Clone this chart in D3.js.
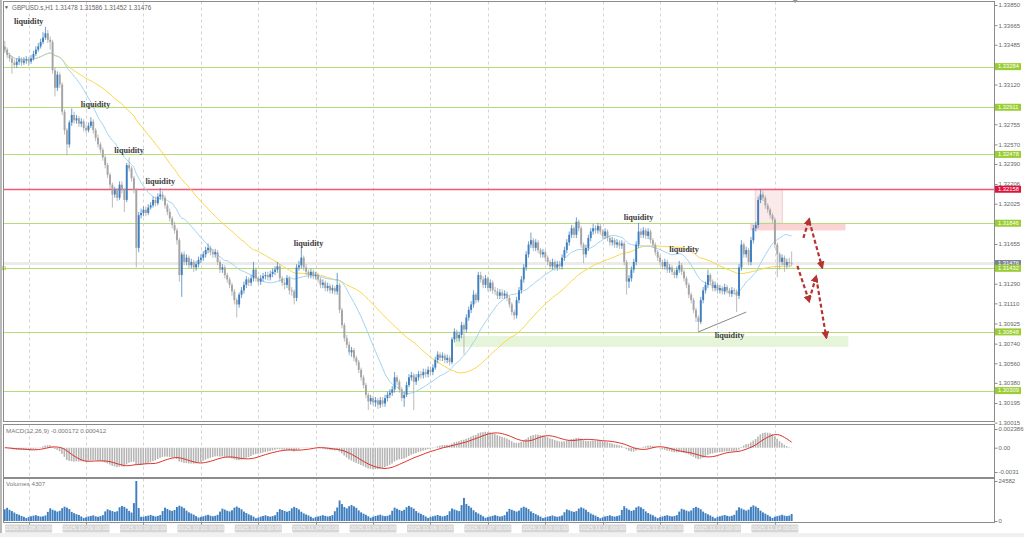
<!DOCTYPE html>
<html><head><meta charset="utf-8">
<script src="https://cdn.jsdelivr.net/npm/d3@7"></script>
<style>body{margin:0;background:#fff;}svg{display:block;font-family:"Liberation Sans",Arial,sans-serif;}</style>
</head><body><svg id="c" width="1024" height="537"></svg>
<script>
// ---------- DATA ----------
const symbolTitle = "GBPUSD.s,H1";
const firstOpen = 1.3347;
const closes = [
1.3344,1.3339,1.3336,1.3332,1.3330,1.3333,1.3335,1.3332,1.3334,1.3335,
1.3333,1.3336,1.3340,1.3344,1.3347,1.3351,1.3355,1.3359,1.3353,1.3351,
1.3325,1.3309,1.3321,1.3312,1.3287,1.3270,1.3257,1.3277,1.3284,1.3279,
1.3281,1.3276,1.3278,1.3272,1.3270,1.3274,1.3278,1.3270,1.3263,1.3257,
1.3252,1.3245,1.3238,1.3229,1.3220,1.3211,1.3215,1.3208,1.3220,1.3215,
1.3206,1.3238,1.3235,1.3226,1.3215,1.3162,1.3192,1.3194,1.3197,1.3194,
1.3199,1.3201,1.3206,1.3203,1.3209,1.3211,1.3208,1.3201,1.3195,1.3189,
1.3183,1.3178,1.3169,1.3137,1.3156,1.3149,1.3153,1.3146,1.3149,1.3144,
1.3147,1.3151,1.3153,1.3156,1.3160,1.3162,1.3158,1.3156,1.3158,1.3149,
1.3142,1.3144,1.3137,1.3133,1.3128,1.3122,1.3114,1.3110,1.3119,1.3123,
1.3128,1.3133,1.3130,1.3134,1.3142,1.3134,1.3131,1.3134,1.3136,1.3137,
1.3135,1.3138,1.3140,1.3142,1.3145,1.3134,1.3130,1.3128,1.3134,1.3123,
1.3122,1.3116,1.3144,1.3146,1.3153,1.3144,1.3140,1.3137,1.3140,1.3136,
1.3137,1.3133,1.3128,1.3130,1.3125,1.3127,1.3123,1.3125,1.3122,1.3128,
1.3105,1.3091,1.3079,1.3073,1.3066,1.3068,1.3061,1.3057,1.3050,1.3043,
1.3036,1.3027,1.3021,1.3024,1.3020,1.3022,1.3018,1.3022,1.3019,1.3024,
1.3027,1.3029,1.3032,1.3043,1.3039,1.3032,1.3024,1.3027,1.3036,1.3043,
1.3045,1.3039,1.3043,1.3046,1.3045,1.3048,1.3046,1.3050,1.3048,1.3052,
1.3059,1.3064,1.3061,1.3063,1.3059,1.3061,1.3057,1.3078,1.3085,1.3079,
1.3082,1.3091,1.3087,1.3098,1.3105,1.3110,1.3119,1.3114,1.3137,1.3133,
1.3128,1.3134,1.3125,1.3130,1.3123,1.3122,1.3118,1.3121,1.3118,1.3120,
1.3116,1.3110,1.3103,1.3100,1.3114,1.3123,1.3133,1.3144,1.3156,1.3165,
1.3169,1.3162,1.3167,1.3160,1.3156,1.3158,1.3153,1.3149,1.3145,1.3149,
1.3144,1.3147,1.3145,1.3153,1.3160,1.3167,1.3174,1.3180,1.3174,1.3186,
1.3180,1.3165,1.3156,1.3162,1.3171,1.3177,1.3180,1.3178,1.3182,1.3177,
1.3173,1.3177,1.3171,1.3167,1.3169,1.3165,1.3167,1.3164,1.3166,1.3149,
1.3131,1.3134,1.3142,1.3149,1.3165,1.3177,1.3174,1.3178,1.3173,1.3177,
1.3169,1.3165,1.3158,1.3153,1.3149,1.3145,1.3149,1.3142,1.3144,1.3140,
1.3137,1.3142,1.3146,1.3140,1.3134,1.3128,1.3119,1.3114,1.3105,1.3098,
1.3094,1.3114,1.3123,1.3128,1.3137,1.3131,1.3125,1.3128,1.3123,1.3125,
1.3122,1.3126,1.3123,1.3120,1.3123,1.3122,1.3118,1.3144,1.3165,1.3156,
1.3160,1.3149,1.3169,1.3180,1.3183,1.3206,1.3211,1.3208,1.3201,1.3197,
1.3192,1.3188,1.3165,1.3156,1.3149,1.3153,1.3146,1.3149,1.31478,1.31476
];
const highs = [
1.3352,1.3346,1.3341,1.3338,1.3335,1.3336,1.3338,1.3337,1.3337,1.3338,
1.3337,1.3339,1.3343,1.3347,1.3350,1.3354,1.3360,1.3365,1.3362,1.3356,
1.3353,1.3328,1.3324,1.3323,1.3314,1.3289,1.3272,1.3279,1.3290,1.3287,
1.3284,1.3283,1.3281,1.3280,1.3275,1.3277,1.3282,1.3280,1.3272,1.3266,
1.3259,1.3254,1.3247,1.3240,1.3231,1.3222,1.3218,1.3217,1.3223,1.3223,
1.3217,1.3240,1.3245,1.3237,1.3228,1.3217,1.3195,1.3198,1.3200,1.3200,
1.3202,1.3204,1.3209,1.3209,1.3212,1.3217,1.3214,1.3210,1.3203,1.3198,
1.3191,1.3186,1.3180,1.3171,1.3158,1.3159,1.3156,1.3155,1.3152,1.3151,
1.3150,1.3154,1.3156,1.3159,1.3163,1.3166,1.3164,1.3161,1.3161,1.3160,
1.3151,1.3147,1.3146,1.3139,1.3135,1.3130,1.3124,1.3116,1.3121,1.3126,
1.3131,1.3136,1.3135,1.3137,1.3149,1.3144,1.3136,1.3137,1.3139,1.3140,
1.3140,1.3141,1.3143,1.3145,1.3149,1.3147,1.3136,1.3133,1.3137,1.3136,
1.3126,1.3124,1.3147,1.3150,1.3162,1.3155,1.3147,1.3142,1.3143,1.3142,
1.3140,1.3139,1.3135,1.3133,1.3132,1.3130,1.3129,1.3128,1.3127,1.3139,
1.3130,1.3107,1.3093,1.3082,1.3076,1.3071,1.3070,1.3063,1.3059,1.3052,
1.3045,1.3038,1.3029,1.3027,1.3026,1.3025,1.3024,1.3025,1.3025,1.3027,
1.3030,1.3032,1.3035,1.3048,1.3045,1.3041,1.3034,1.3030,1.3039,1.3046,
1.3048,1.3047,1.3046,1.3049,1.3049,1.3051,1.3051,1.3053,1.3053,1.3055,
1.3062,1.3067,1.3066,1.3066,1.3065,1.3064,1.3063,1.3080,1.3088,1.3087,
1.3085,1.3094,1.3093,1.3101,1.3108,1.3113,1.3123,1.3121,1.3140,1.3140,
1.3136,1.3137,1.3136,1.3133,1.3132,1.3126,1.3125,1.3124,1.3124,1.3123,
1.3122,1.3118,1.3112,1.3105,1.3117,1.3126,1.3136,1.3147,1.3159,1.3168,
1.3176,1.3171,1.3170,1.3169,1.3162,1.3161,1.3160,1.3155,1.3151,1.3152,
1.3151,1.3150,1.3150,1.3156,1.3163,1.3170,1.3177,1.3183,1.3182,1.3190,
1.3188,1.3182,1.3167,1.3165,1.3174,1.3180,1.3184,1.3183,1.3185,1.3184,
1.3179,1.3180,1.3179,1.3173,1.3172,1.3171,1.3170,1.3169,1.3169,1.3168,
1.3151,1.3137,1.3145,1.3152,1.3168,1.3185,1.3180,1.3181,1.3180,1.3180,
1.3179,1.3171,1.3167,1.3160,1.3155,1.3151,1.3152,1.3151,1.3147,1.3146,
1.3142,1.3145,1.3150,1.3148,1.3142,1.3136,1.3130,1.3121,1.3116,1.3107,
1.3100,1.3117,1.3126,1.3131,1.3142,1.3139,1.3133,1.3131,1.3130,1.3128,
1.3127,1.3129,1.3128,1.3125,1.3126,1.3125,1.3124,1.3147,1.3169,1.3167,
1.3163,1.3162,1.3172,1.3183,1.3186,1.3209,1.3216,1.3214,1.3210,1.3203,
1.3199,1.3194,1.3190,1.3167,1.3158,1.3156,1.3155,1.3152,1.3153,1.31586
];
const lows = [
1.3341,1.3336,1.3333,1.3322,1.3327,1.3327,1.3330,1.3329,1.3330,1.3331,
1.3329,1.3331,1.3334,1.3338,1.3342,1.3345,1.3349,1.3353,1.3350,1.3344,
1.3322,1.3301,1.3306,1.3309,1.3284,1.3266,1.3247,1.3254,1.3274,1.3276,
1.3276,1.3273,1.3273,1.3269,1.3267,1.3268,1.3272,1.3267,1.3260,1.3254,
1.3249,1.3242,1.3235,1.3226,1.3216,1.3199,1.3208,1.3205,1.3206,1.3212,
1.3195,1.3204,1.3232,1.3223,1.3212,1.3144,1.3158,1.3189,1.3191,1.3191,
1.3192,1.3197,1.3199,1.3200,1.3201,1.3206,1.3205,1.3198,1.3192,1.3186,
1.3180,1.3175,1.3165,1.3131,1.3117,1.3146,1.3146,1.3143,1.3143,1.3140,
1.3141,1.3144,1.3148,1.3150,1.3153,1.3157,1.3155,1.3153,1.3153,1.3146,
1.3139,1.3139,1.3134,1.3130,1.3125,1.3118,1.3110,1.3098,1.3107,1.3116,
1.3120,1.3125,1.3127,1.3127,1.3131,1.3131,1.3128,1.3128,1.3131,1.3133,
1.3132,1.3132,1.3135,1.3137,1.3139,1.3131,1.3127,1.3124,1.3125,1.3119,
1.3118,1.3110,1.3113,1.3141,1.3143,1.3141,1.3137,1.3134,1.3134,1.3133,
1.3133,1.3130,1.3125,1.3125,1.3122,1.3122,1.3120,1.3120,1.3119,1.3119,
1.3102,1.3088,1.3076,1.3070,1.3063,1.3062,1.3058,1.3054,1.3047,1.3040,
1.3033,1.3024,1.3013,1.3018,1.3017,1.3016,1.3014,1.3015,1.3016,1.3016,
1.3021,1.3024,1.3026,1.3029,1.3036,1.3029,1.3021,1.3016,1.3025,1.3034,
1.3040,1.3013,1.3036,1.3040,1.3042,1.3042,1.3043,1.3043,1.3045,1.3045,
1.3050,1.3056,1.3058,1.3058,1.3056,1.3056,1.3054,1.3055,1.3075,1.3076,
1.3076,1.3079,1.3064,1.3084,1.3095,1.3102,1.3107,1.3111,1.3112,1.3130,
1.3125,1.3125,1.3122,1.3122,1.3120,1.3119,1.3115,1.3115,1.3115,1.3115,
1.3113,1.3107,1.3100,1.3096,1.3097,1.3111,1.3120,1.3130,1.3141,1.3153,
1.3162,1.3159,1.3159,1.3157,1.3153,1.3153,1.3150,1.3146,1.3142,1.3142,
1.3141,1.3141,1.3142,1.3142,1.3150,1.3157,1.3164,1.3171,1.3171,1.3171,
1.3177,1.3162,1.3148,1.3153,1.3159,1.3168,1.3174,1.3175,1.3175,1.3174,
1.3170,1.3170,1.3168,1.3164,1.3164,1.3162,1.3162,1.3161,1.3161,1.3146,
1.3119,1.3125,1.3131,1.3139,1.3146,1.3162,1.3171,1.3171,1.3170,1.3170,
1.3166,1.3162,1.3155,1.3150,1.3146,1.3142,1.3142,1.3139,1.3139,1.3137,
1.3134,1.3134,1.3139,1.3137,1.3131,1.3125,1.3116,1.3111,1.3102,1.3094,
1.3085,1.3092,1.3111,1.3120,1.3125,1.3128,1.3122,1.3122,1.3120,1.3120,
1.3119,1.3119,1.3120,1.3117,1.3117,1.3119,1.3103,1.3115,1.3141,1.3153,
1.3153,1.3146,1.3146,1.3166,1.3177,1.3180,1.3203,1.3205,1.3198,1.3194,
1.3189,1.3185,1.3162,1.3135,1.3142,1.3146,1.3140,1.3143,1.3144,1.31452
];
const volumes = [
7200,8100,6900,6100,5200,4300,3800,3100,2600,1800,
2400,2900,3300,3600,3100,2700,2900,3400,5600,7800,6900,6400,5800,6300,7900,8800,8200,7300,5600,4800,4200,3700,2800,1900,
2300,2800,3100,3500,2900,2600,3000,3600,5900,7200,6600,6100,5600,6000,8400,9200,8700,7600,6200,5200,11000,24582,8000,2600,
2600,3000,3300,3700,3200,2800,3100,3700,6100,8200,7400,6600,6200,6800,8600,9400,8800,7900,6400,5300,4600,3900,3000,2100,
2500,2900,3400,3800,3300,2900,3200,3800,5800,7600,7000,6300,5900,6600,8200,8900,8100,7200,5800,4900,4100,3500,2700,1700,
2100,2700,3100,3500,3000,2700,3000,3500,5500,7300,6800,6200,5700,6200,7800,8700,8000,7100,5700,4700,4000,3400,2600,1800,
2400,2800,3200,3600,3100,2800,3000,3600,6000,8300,12600,10400,8600,7800,9100,9800,9000,8100,6500,5300,4500,3800,2900,2000,
2600,3100,3500,3900,3300,3000,3200,3800,6300,8200,7500,6800,6200,6900,8500,9300,8500,7600,6100,5100,4400,3700,2800,1900,
2500,2900,3300,3700,3200,2800,3100,3700,6000,7700,7100,6500,6100,9800,14200,10500,9300,8200,6600,5400,4600,3800,2900,2000,
2400,2800,3200,3600,3100,2700,3000,3600,5700,7400,6900,6300,5800,6400,8100,8800,8200,7300,5900,4900,4200,3500,2700,1800,
2200,2700,3000,3400,2900,2600,2900,3400,5400,7100,6600,6000,5600,6100,7600,8400,7800,6900,5600,4600,3900,3300,2500,1700,
2300,2800,3100,3500,3000,2700,3000,3500,6800,9100,7800,6900,6200,6700,8300,9000,8400,7400,5900,4900,4100,3500,2600,1800,
2400,2800,3200,3600,3100,2800,3100,3600,5800,7500,7000,6400,5900,6500,8000,8700,8100,7200,5800,4800,4100,3400,2600,1700,
2500,2900,3300,3700,3200,2900,3200,3800,6500,8400,7700,7000,6400,7000,8700,9600,8900,8000,6400,5300,4500,3700,2800,1900,
2600,3000,3400,3800,3300,3000,3300,4307
];
const dayLabels = ["2025.10.28 00:00","2025.10.29 00:00","2025.10.30 00:00","2025.10.31 00:00","2025.11.03 00:00","2025.11.04 00:00","2025.11.05 00:00","2025.11.06 00:00","2025.11.07 00:00","2025.11.10 00:00","2025.11.11 00:00","2025.11.12 00:00","2025.11.13 00:00","2025.11.14 00:00"];
const dayStartBars = [10,34,58,82,106,130,154,178,202,226,250,274,298,322];
const priceTicks = [1.33850,1.33665,1.33485,1.33120,1.32755,1.32570,1.32390,1.32206,1.32025,1.31655,1.31290,1.31110,1.30925,1.30740,1.30560,1.30380,1.30195,1.30015];
const supportLevels = [1.33284,1.32911,1.32478,1.31846,1.31432,1.30848,1.30309];
const resistanceLevel = 1.32158;
const bidPrice = 1.31476;
const macdLabel = "MACD(12,26,9) -0.000172 0.000412";
const macdTicks = [0.002386, 0.0, -0.0031];
const macdTickText = ["0.002386","0.00","-0.0031"];
const volumeTicks = [24582, 0];
// annotations in data coordinates [bar index, price]
const liquidityNotes = [[10,1.33694],[38,1.3293],[52,1.3251],[65,1.3222],[127,1.3165],[265,1.3189],[284,1.3160],[303,1.3081]];
const arrowsA = [[[333.9,1.31711],[336.4,1.31886]],[[336.4,1.31866],[341.8,1.31436]]];
const arrowsB = [[[331.4,1.31454],[336.4,1.31124]],[[336.4,1.31144],[339.3,1.31362]],[[339.3,1.31342],[343.5,1.30793]]];
const trendLine = [[290,1.30848],[310,1.3103]];
const sellZone = {i0:313.8, i1:325.1, p0:1.32158, p1:1.31846};
const sellBand = {i0:311.7, i1:351.5, p0:1.31846, p1:1.3178};
const targetBand = {i0:188.3, i1:352.7, p0:1.3081, p1:1.3071};

// ---------- CHART ----------
const svg = d3.select("#c");
const n = closes.length;
const opens = closes.map((c,i)=> i===0 ? firstOpen : closes[i-1]);
const L = 3.5, R = 994.5;
const x = d3.scaleBand().domain(d3.range(n)).range([3.8, 792.6]).paddingInner(0.2);
const cx = i => x(i) + x.bandwidth()/2;
const xi = d3.scaleLinear().domain([0, n-1]).range([cx(0), cx(n-1)]);
const y = d3.scaleLinear().domain([1.30015, 1.33850]).range([422.6, 5]);
const ym = d3.scaleLinear().domain([-0.0031, 0.002386]).range([472, 429]);
const yv = d3.scaleLinear().domain([0, 24582]).range([521, 481]);

const defs = svg.append("defs");
defs.append("clipPath").attr("id","cm").append("rect").attr("x",L).attr("y",1.5).attr("width",R-L).attr("height",420);
const mk = defs.append("marker").attr("id","ah").attr("viewBox","0 0 10 10").attr("refX",8).attr("refY",5)
  .attr("markerWidth",3.6).attr("markerHeight",3.6).attr("orient","auto");
mk.append("path").attr("d","M0,0 L10,5 L0,10 z").attr("fill","#b5342f");

// window frame
svg.append("rect").attr("x",0).attr("y",0).attr("width",2).attr("height",537).attr("fill","#b8b8b8");
svg.append("rect").attr("x",0).attr("y",533).attr("width",1024).attr("height",4).attr("fill","#f0f0f0");

// grid (vertical dashed)
const panels = [[1.5,421.5],[424.5,477.5],[478.5,522.5]];
panels.forEach(([t,b])=>{
  svg.append("g").selectAll("line").data(dayStartBars).join("line")
    .attr("x1",d=>Math.round(cx(d))+0.5).attr("x2",d=>Math.round(cx(d))+0.5).attr("y1",t).attr("y2",b)
    .attr("stroke","#d4d4d4").attr("stroke-dasharray","3,3");
});

const main = svg.append("g").attr("clip-path","url(#cm)");
// zones
main.append("rect").attr("x",xi(targetBand.i0)).attr("width",xi(targetBand.i1)-xi(targetBand.i0))
  .attr("y",y(targetBand.p0)).attr("height",y(targetBand.p1)-y(targetBand.p0)).attr("fill","#e6f5da");
main.append("rect").attr("x",xi(sellBand.i0)).attr("width",xi(sellBand.i1)-xi(sellBand.i0))
  .attr("y",y(sellBand.p0)).attr("height",y(sellBand.p1)-y(sellBand.p0)).attr("fill","#fbd3d3");
main.append("rect").attr("x",xi(sellZone.i0)).attr("width",xi(sellZone.i1)-xi(sellZone.i0))
  .attr("y",y(sellZone.p0)).attr("height",y(sellZone.p1)-y(sellZone.p0)).attr("fill","#fbeaea").attr("stroke","#efcfcf");

// bid line
main.append("rect").attr("x",L).attr("width",R-L).attr("y",y(bidPrice)-1.5).attr("height",3).attr("fill","#ebebeb");
// levels
main.selectAll("rect.lv").data(supportLevels).join("rect").attr("class","lv")
  .attr("x",L).attr("width",R-L).attr("y",d=>Math.round(y(d))).attr("height",1)
  .attr("fill","#b3dc7a");
main.append("rect").attr("class","res").attr("x",L).attr("width",R-L)
  .attr("y",Math.round(y(resistanceLevel))-0.25).attr("height",1.5)
  .attr("fill","#f25a76");

// moving averages
function sma(arr, p){ return arr.map((_,i)=>{ const s=Math.max(0,i-p+1); return d3.mean(arr.slice(s,i+1)); }); }
const ma20 = sma(closes,20), ma50 = sma(closes,50);
const lineGen = d3.line().x((d,i)=>cx(i)).y(d=>y(d)).curve(d3.curveMonotoneX);
main.append("path").attr("d",lineGen(ma50)).attr("fill","none").attr("stroke","#f9d648").attr("stroke-width",1);
main.append("path").attr("d",lineGen(ma20)).attr("fill","none").attr("stroke","#9fd3f2").attr("stroke-width",1);

// candles
const bw = x.bandwidth();
const cg = main.append("g");
cg.selectAll("line").data(closes).join("line")
  .attr("x1",(d,i)=>cx(i)).attr("x2",(d,i)=>cx(i))
  .attr("y1",(d,i)=>y(highs[i])).attr("y2",(d,i)=>y(lows[i]))
  .attr("stroke",(d,i)=>d>=opens[i]?"#4a86c0":"#a9a9a9").attr("stroke-width",0.8);
cg.selectAll("rect").data(closes).join("rect")
  .attr("x",(d,i)=>x(i)).attr("width",bw)
  .attr("y",(d,i)=>y(Math.max(d,opens[i]))).attr("height",(d,i)=>Math.max(0.8,Math.abs(y(d)-y(opens[i]))))
  .attr("fill",(d,i)=>d>=opens[i]?"#3f7fbf":"#a4a4a4");

// trend line
main.append("line").attr("x1",xi(trendLine[0][0])).attr("y1",y(trendLine[0][1])).attr("x2",xi(trendLine[1][0])).attr("y2",y(trendLine[1][1]))
  .attr("stroke","#8a8a8a").attr("stroke-width",1);

// arrows
[...arrowsA,...arrowsB].forEach(seg=>{
  main.append("line").attr("x1",xi(seg[0][0])).attr("y1",y(seg[0][1])).attr("x2",xi(seg[1][0])).attr("y2",y(seg[1][1]))
    .attr("stroke","#b5342f").attr("stroke-width",2.2).attr("stroke-dasharray","4,2.5").attr("marker-end","url(#ah)");
});

// liquidity labels
main.selectAll("text.liq").data(liquidityNotes).join("text").attr("class","liq")
  .attr("x",d=>xi(d[0])).attr("y",d=>y(d[1])).attr("text-anchor","middle").attr("dominant-baseline","middle")
  .attr("font-family","'Liberation Serif','Times New Roman',serif").attr("font-weight","bold").attr("font-size",8.2)
  .attr("fill","#3c3c3c").text("liquidity");

// left marker
svg.append("rect").attr("x",2.5).attr("y",y(1.31432)-1.5).attr("width",3).attr("height",3).attr("fill","none").attr("stroke","#9acd32").attr("stroke-width",0.7);

// panels frames
panels.forEach(([t,b])=>{
  svg.append("rect").attr("x",L).attr("y",t).attr("width",R-L).attr("height",b-t).attr("fill","none").attr("stroke","#8c8c8c");
});

// price axis
const ax = svg.append("g").attr("transform",`translate(${R},0)`)
  .call(d3.axisRight(y).tickValues(priceTicks).tickSize(3).tickFormat(d3.format(".5f")));
ax.select(".domain").remove();
ax.selectAll("line").attr("stroke","#8c8c8c");
ax.selectAll("text").attr("font-size",6).attr("fill","#666").attr("x",4).attr("font-family","'Liberation Sans',Arial,sans-serif");

// level tags
function tag(p, bg){
  const g = svg.append("g");
  g.append("rect").attr("x",995).attr("y",y(p)-3.5).attr("width",26).attr("height",7).attr("fill",bg);
  g.append("text").attr("x",998).attr("y",y(p)+0.3).attr("dominant-baseline","middle").attr("font-size",5.8).attr("fill","#fff").text(d3.format(".5f")(p));
}
tag(bidPrice,"#7a8594");
supportLevels.forEach(p=>tag(p,"#9acd32"));
tag(resistanceLevel,"#dc143c");

// header
svg.append("text").attr("x",4).attr("y",9).attr("font-size",5).attr("fill","#555").text("▼");
svg.append("text").attr("x",12).attr("y",9.5).attr("font-size",6.3).attr("fill","#666")
  .text(`${symbolTitle}  ${d3.format(".5f")(opens[n-1])} ${d3.format(".5f")(highs[n-1])} ${d3.format(".5f")(lows[n-1])} ${d3.format(".5f")(closes[n-1])}`);
svg.append("path").attr("d",`M${xi(330.5)-2.5},0 L${xi(330.5)+2.5},0 L${xi(330.5)},3 z`).attr("fill","#999");

// MACD
function ema(arr,p){ const k=2/(p+1); const o=[arr[0]]; for(let i=1;i<arr.length;i++) o.push(arr[i]*k+o[i-1]*(1-k)); return o; }
const e12 = ema(closes,12), e26 = ema(closes,26);
const macd = e12.map((v,i)=>v-e26[i]);
const signal = sma(macd,9);
svg.append("g").selectAll("rect").data(macd).join("rect")
  .attr("x",(d,i)=>x(i)).attr("width",bw*0.8)
  .attr("y",d=>Math.min(ym(d),ym(0))).attr("height",d=>Math.abs(ym(d)-ym(0)))
  .attr("fill","#b4b4b4");
svg.append("path").attr("d",d3.line().x((d,i)=>cx(i)).y(d=>ym(d))(signal)).attr("fill","none").attr("stroke","#e0302a").attr("stroke-width",1);
svg.append("text").attr("x",6).attr("y",433).attr("font-size",6.2).attr("fill","#777").text(macdLabel);
const axm = svg.append("g").attr("transform",`translate(${R},0)`)
  .call(d3.axisRight(ym).tickValues(macdTicks).tickSize(3).tickFormat((d,i)=>macdTickText[i]));
axm.select(".domain").remove(); axm.selectAll("line").attr("stroke","#8c8c8c");
axm.selectAll("text").attr("font-size",6).attr("fill","#666").attr("x",4);

// Volumes
svg.append("g").selectAll("rect").data(volumes).join("rect")
  .attr("x",(d,i)=>x(i)).attr("width",bw)
  .attr("y",d=>yv(d)).attr("height",d=>yv(0)-yv(d)).attr("fill","#3f7fbf");
svg.append("text").attr("x",6).attr("y",486).attr("font-size",6.2).attr("fill","#777").text("Volumes "+volumes[n-1]);
const axv = svg.append("g").attr("transform",`translate(${R},0)`)
  .call(d3.axisRight(yv).tickValues(volumeTicks).tickSize(3).tickFormat(d3.format("d")));
axv.select(".domain").remove(); axv.selectAll("line").attr("stroke","#8c8c8c");
axv.selectAll("text").attr("font-size",6).attr("fill","#666").attr("x",4);

// time axis labels
const tg = svg.append("g");
dayStartBars.forEach((b,k)=>{
  const xc = cx(b);
  tg.append("line").attr("x1",Math.round(xc)+0.5).attr("x2",Math.round(xc)+0.5).attr("y1",522.5).attr("y2",525).attr("stroke","#8c8c8c");
  tg.append("rect").attr("x",xc-23.5).attr("y",524.5).attr("width",47).attr("height",8).attr("fill","#d6d6d6").attr("rx",1);
  tg.append("text").attr("x",xc).attr("y",528.7).attr("text-anchor","middle").attr("dominant-baseline","middle")
    .attr("font-size",6).attr("fill","#f6f6f6").text(dayLabels[k]);
});
</script></body></html>
